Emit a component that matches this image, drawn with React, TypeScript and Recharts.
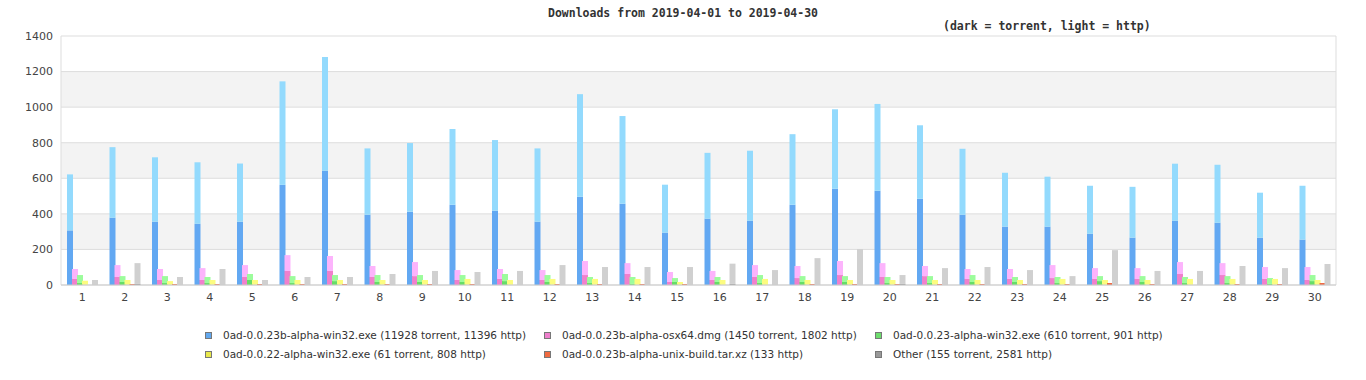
import { BarChart, Bar, XAxis, YAxis, CartesianGrid } from "recharts"

const days = [1, 2, 3, 4, 5, 6, 7, 8, 9, 10, 11, 12, 13, 14, 15, 16, 17, 18, 19, 20, 21, 22, 23, 24, 25, 26, 27, 28, 29, 30]

// 0ad-0.0.23b-alpha-win32.exe
const win23bTorrent = [307, 378, 356, 344, 356, 563, 642, 395, 412, 451, 418, 356, 496, 457, 294, 373, 361, 451, 541, 530, 485, 395, 328, 328, 288, 266, 361, 350, 266, 255]
const win23bHttp = [315, 397, 362, 346, 327, 582, 640, 373, 386, 426, 397, 412, 577, 493, 270, 370, 394, 397, 447, 488, 413, 371, 303, 281, 270, 286, 321, 326, 253, 303]

// 0ad-0.0.23b-alpha-osx64.dmg
const osxTorrent = [34, 45, 28, 28, 45, 79, 79, 45, 50, 28, 34, 28, 56, 62, 17, 28, 45, 39, 56, 45, 50, 34, 34, 39, 34, 34, 62, 56, 34, 28]
const osxHttp = [56, 67, 62, 67, 67, 89, 84, 62, 79, 56, 56, 56, 79, 61, 56, 51, 67, 68, 79, 78, 57, 56, 56, 73, 61, 61, 67, 67, 67, 73]

// 0ad-0.0.23-alpha-win32.exe
const win23Torrent = [11, 17, 11, 11, 28, 11, 22, 17, 17, 17, 22, 17, 11, 6, 17, 17, 11, 17, 17, 11, 11, 17, 17, 11, 22, 17, 11, 11, 6, 22]
const win23Http = [45, 33, 39, 34, 34, 39, 34, 39, 39, 39, 40, 39, 34, 39, 22, 28, 45, 33, 33, 34, 39, 39, 28, 34, 28, 33, 34, 39, 33, 34]

// 0ad-0.0.22-alpha-win32.exe
const win22Torrent = [2, 2, 2, 2, 2, 2, 2, 2, 2, 2, 2, 2, 2, 2, 2, 2, 2, 2, 2, 2, 2, 2, 2, 2, 2, 2, 2, 2, 2, 2]
const win22Http = [22, 26, 20, 26, 26, 26, 26, 26, 26, 32, 26, 32, 32, 32, 15, 26, 32, 26, 26, 26, 26, 26, 26, 32, 26, 26, 32, 32, 32, 26]

// 0ad-0.0.23b-alpha-unix-build.tar.xz
const unixTorrent = [0, 0, 0, 0, 0, 0, 0, 0, 0, 0, 0, 0, 0, 0, 0, 0, 0, 0, 0, 0, 0, 0, 0, 0, 0, 0, 0, 0, 0, 0]
const unixHttp = [0, 5, 5, 5, 5, 5, 5, 5, 5, 5, 0, 5, 5, 5, 5, 0, 0, 5, 5, 5, 5, 5, 5, 5, 11, 5, 0, 5, 5, 11]

// Other
const otherTorrent = [0, 6, 0, 0, 0, 0, 0, 0, 0, 0, 0, 0, 0, 0, 0, 6, 0, 0, 0, 6, 0, 0, 0, 0, 0, 0, 0, 0, 0, 0]
const otherHttp = [28, 117, 45, 90, 28, 45, 45, 62, 79, 73, 79, 112, 101, 101, 101, 114, 84, 151, 202, 50, 95, 101, 84, 50, 196, 79, 79, 107, 95, 118]

const yTicks = [0, 200, 400, 600, 800, 1000, 1200, 1400]

const series = [
  { key: "win23b", label: "0ad-0.0.23b-alpha-win32.exe (11928 torrent, 11396 http)", torrent: win23bTorrent, http: win23bHttp, dark: "#62a8f2", light: "#93dafd", swatch: "#62a8ee" },
  { key: "osx", label: "0ad-0.0.23b-alpha-osx64.dmg (1450 torrent, 1802 http)", torrent: osxTorrent, http: osxHttp, dark: "#f080cc", light: "#fcb4fc", swatch: "#ee7fcc" },
  { key: "win23", label: "0ad-0.0.23-alpha-win32.exe (610 torrent, 901 http)", torrent: win23Torrent, http: win23Http, dark: "#66dd66", light: "#9cfc9c", swatch: "#6ddd6d" },
  { key: "win22", label: "0ad-0.0.22-alpha-win32.exe (61 torrent, 808 http)", torrent: win22Torrent, http: win22Http, dark: "#e0e040", light: "#fcfc80", swatch: "#e8e84c" },
  { key: "unix", label: "0ad-0.0.23b-alpha-unix-build.tar.xz (133 http)", torrent: unixTorrent, http: unixHttp, dark: "#d85030", light: "#f0643c", swatch: "#f06a40" },
  { key: "other", label: "Other (155 torrent, 2581 http)", torrent: otherTorrent, http: otherHttp, dark: "#999999", light: "#d0d0d0", swatch: "#999999" },
]

const rows = days.map((d, i) => {
  const row: Record<string, number> = { day: d }
  series.forEach((s) => {
    row[s.key + "T"] = s.torrent[i]
    row[s.key + "H"] = s.http[i]
  })
  return row
})

const legendCols = [205, 544, 875]
const legendRows = [335, 354]

export default function App() {
  return (
    <div style={{ position: "absolute", left: 0, top: 0, width: 1366, height: 380, background: "#fff", fontFamily: "'DejaVu Sans', sans-serif" }}>
      <div style={{ position: "absolute", left: 0, width: 1366, top: 6, textAlign: "center", fontFamily: "'DejaVu Sans Mono', monospace", fontWeight: "bold", fontSize: 11.5, color: "#333" }}>
        Downloads from 2019-04-01 to 2019-04-30
      </div>
      <div style={{ position: "absolute", left: 943, top: 19, fontFamily: "'DejaVu Sans Mono', monospace", fontWeight: "bold", fontSize: 11.5, color: "#333", whiteSpace: "nowrap" }}>
        (dark = torrent, light = http)
      </div>
      <div style={{ position: "absolute", left: 0, top: 0 }}>
        <BarChart width={1366} height={310} data={rows} margin={{ top: 36, right: 30, left: 11, bottom: 0 }} barSize={6} barGap={-1}>
          <CartesianGrid
            stroke="#dddddd"
            horizontalFill={["#ffffff", "#f3f3f3"]}
            fillOpacity={1}
            verticalCoordinatesGenerator={({ offset }: any) => [offset.left, offset.left + offset.width]}
          />
          <XAxis dataKey="day" tickLine={false} axisLine={{ stroke: "#cccccc" }} tick={{ fontSize: 11, fill: "#444" }} height={25} />
          <YAxis domain={[0, 1400]} ticks={yTicks} width={50} tickLine={false} axisLine={false} tick={{ fontSize: 11, fill: "#444" }} />
          {series.flatMap((s) => [
            <Bar key={s.key + "T"} dataKey={s.key + "T"} stackId={s.key} fill={s.dark} isAnimationActive={false} />,
            <Bar key={s.key + "H"} dataKey={s.key + "H"} stackId={s.key} fill={s.light} isAnimationActive={false} />,
          ])}
        </BarChart>
      </div>
      {series.map((s, i) => {
        const x = legendCols[i % 3]
        const y = legendRows[Math.floor(i / 3)]
        return (
          <div key={s.key} style={{ position: "absolute", left: x, top: y - 8, height: 16, display: "flex", alignItems: "center", whiteSpace: "nowrap", fontSize: 10.5, color: "#333" }}>
            <div style={{ width: 7, height: 7, boxSizing: "border-box", border: "1px solid #777", background: s.swatch, marginRight: 11 }} />
            <span>{s.label}</span>
          </div>
        )
      })}
    </div>
  )
}
